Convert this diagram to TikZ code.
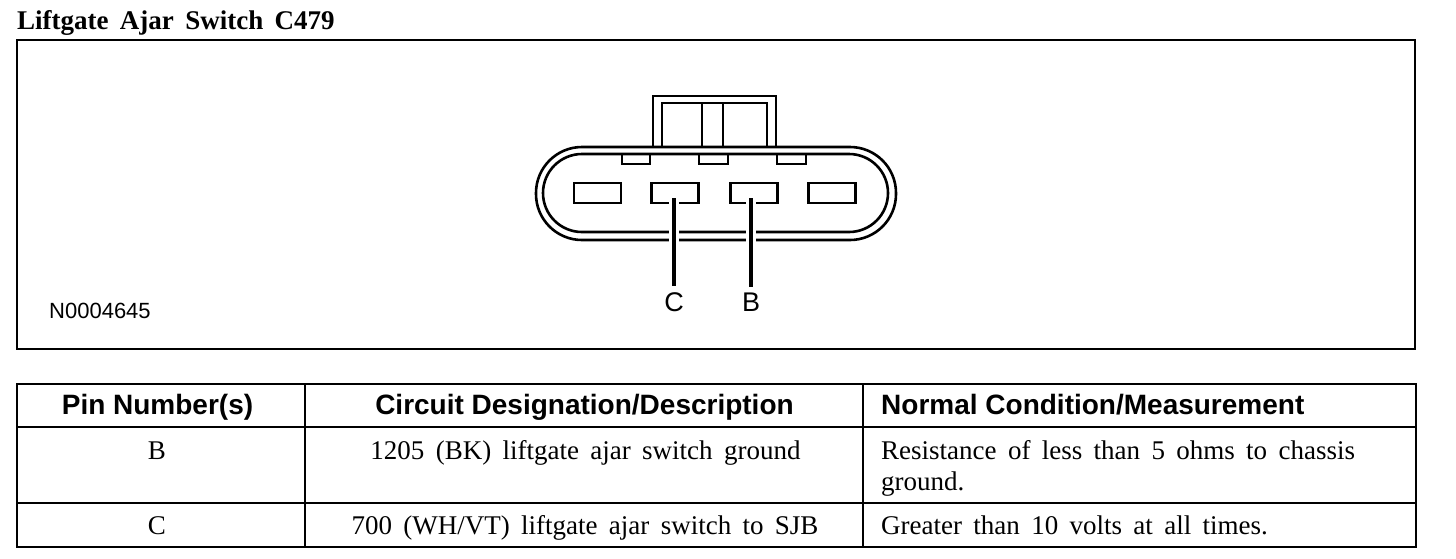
\documentclass[tikz,border=0pt]{standalone}
\usepackage{fontspec}
\setmainfont[WordSpace=1.68]{Liberation Serif}
\setsansfont{Liberation Sans}
\usepackage{tikz}
\tikzset{
    rule/.style={line width=2.6pt},
    shell/.style={line width=2.6pt},
    pin/.style={draw, line width=2.6pt, inner sep=0pt, minimum width=47pt, minimum height=20pt},
    leader/.style={preaction={draw, white, line width=10pt}, line width=3.4pt, shorten <=5pt},
    pinlabel/.style={font=\sffamily\fontsize{27}{30}\selectfont, inner sep=6pt},
    body/.style={font=\fontsize{27}{30}\selectfont, inner sep=0pt},
    head/.style={font=\sffamily\bfseries\fontsize{28}{30}\selectfont, inner sep=0pt}
}
\begin{document}
\begin{tikzpicture}[x=1pt, y=-1pt]
    \useasboundingbox (0, 0) rectangle (1456, 558);
    \node (title) [anchor=base west, inner sep=0pt, font=\bfseries\fontsize{27}{30}\selectfont] at (17, 29){Liftgate Ajar Switch C479};
    \draw [rule] (17, 40) rectangle (1415, 349);
    \node (code) [anchor=base west, inner sep=0pt, font=\sffamily\fontsize{22}{26}\selectfont] at (49, 318){N0004645};

    % connector body
    \draw [shell] (653, 147) -- (653, 96) -- (776, 96) -- (776, 147);
    \draw [shell] (662, 147) -- (662, 103) -- (767, 103) -- (767, 147);
    \draw [shell] (702, 103) -- (702, 147);
    \draw [shell] (723, 103) -- (723, 147);
    \draw [shell, rounded corners=46pt] (536, 147) rectangle (896, 240);
    \draw [shell, rounded corners=39pt] (543, 154) rectangle (888, 232);
    \draw [shell] (622, 155) -- (622, 164) -- (650, 164) -- (650, 155);
    \draw [shell] (699, 155) -- (699, 164) -- (728, 164) -- (728, 155);
    \draw [shell] (777, 155) -- (777, 164) -- (806, 164) -- (806, 155);

    \node (pinA) [pin] at (597.5, 193){};
    \node (pinC) [pin] at (675, 193){};
    \node (pinB) [pin] at (754, 193){};
    \node (pinD) [pin] at (832, 193){};

    \node (labelC) [pinlabel] at (674, 302){C};
    \node (labelB) [pinlabel] at (751, 302){B};
    \draw [leader] (pinC.center -| labelC) -- (labelC);
    \draw [leader] (pinB.center -| labelB) -- (labelB);

    % table
    \draw [rule] (17, 384) rectangle (1416, 547);
    \draw [rule] (17, 427) -- (1416, 427);
    \draw [rule] (17, 503) -- (1416, 503);
    \draw [rule] (305, 384) -- (305, 547);
    \draw [rule] (863, 384) -- (863, 547);

    \node (headPin) [head, anchor=base] at (157.5, 414){Pin Number(s)};
    \node (headCircuit) [head, anchor=base] at (584.5, 414){Circuit Designation/Description};
    \node (headNormal) [head, anchor=base west] at (881, 414){Normal Condition/Measurement};

    \node (pinRowB) [body, anchor=base] at (157, 459){B};
    \node (circuitB) [body, anchor=base] at (585.5, 459){1205 (BK) liftgate ajar switch ground};
    \node (normalB) [body, anchor=base west] at (881, 459){Resistance of less than 5 ohms to chassis};
    \node (normalBnext) [body, anchor=base west] at (881, 490){ground.};

    \node (pinRowC) [body, anchor=base] at (157, 534){C};
    \node (circuitC) [body, anchor=base] at (585, 534){700 (WH/VT) liftgate ajar switch to SJB};
    \node (normalC) [body, anchor=base west] at (881, 534){Greater than 10 volts at all times.};
\end{tikzpicture}
\end{document}
